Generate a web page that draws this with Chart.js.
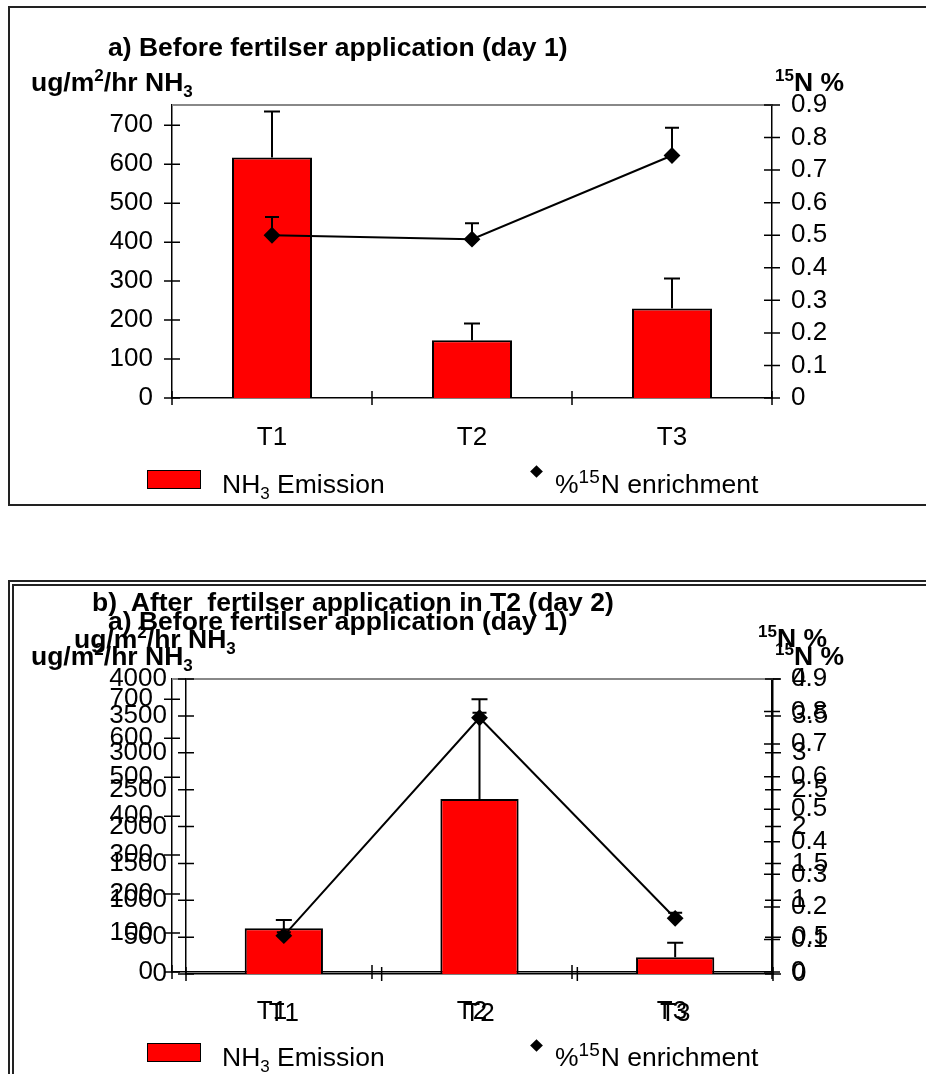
<!DOCTYPE html>
<html>
<head>
<meta charset="utf-8">
<script src="https://cdn.jsdelivr.net/npm/chart.js@4.4.0/dist/chart.umd.min.js"></script>
<style>
  html, body { margin: 0; padding: 0; background: #fff; }
  body { position: relative; width: 926px; height: 1074px; overflow: hidden;
         font-family: "Liberation Sans", Arial, sans-serif; color: #000; }
  .frame { position: absolute; box-sizing: border-box; }
  #frameA { left: 8px; top: 6px; width: 960px; height: 500px; border: 2px solid #222; }
  #frameB { left: 8px; top: 580px; width: 960px; height: 540px; border: 6px double #222; }
  canvas { position: absolute; left: 0; }
  .t { position: absolute; white-space: pre; line-height: 30px; font-size: 26.5px; }
  .b { font-weight: bold; }
  sup, sub { font-size: 17px; line-height: 0; }
  .lg sup { font-size: 19px; margin-right: 1px; }
  .box { position: absolute; width: 52px; height: 17px; background: #ff0000; border: 1.5px solid #000; }
  .dia { position: absolute; width: 9px; height: 9px; background: #000; transform: rotate(45deg); }
</style>
</head>
<body>
<div class="frame" id="frameA"></div>
<div class="frame" id="frameB"></div>

<canvas id="chartA" width="926" height="505" style="top:0"></canvas>
<canvas id="ghostA" width="926" height="505" style="top:574px"></canvas>
<canvas id="chartB" width="926" height="505" style="top:574px"></canvas>

<!-- panel a -->
<div class="t b" style="left:108px;top:32px">a) Before fertilser application (day 1)</div>
<div class="t b" style="left:31px;top:67px">ug/m<sup>2</sup>/hr NH<sub>3</sub></div>
<div class="t b" style="left:775px;top:67px"><sup>15</sup>N %</div>
<div class="box" style="left:147px;top:470px"></div>
<div class="t lg" style="left:222px;top:469px">NH<sub>3</sub> Emission</div>
<div class="dia" style="left:532px;top:467px"></div>
<div class="t lg" style="left:555px;top:469px">%<sup>15</sup>N enrichment</div>

<!-- panel b (with the leftover copy of panel a's labels) -->
<div class="t b" style="left:92px;top:587px">b)  After  fertilser application in T2 (day 2)</div>
<div class="t b" style="left:108px;top:606px">a) Before fertilser application (day 1)</div>
<div class="t b" style="left:74px;top:624px">ug/m<sup>2</sup>/hr NH<sub>3</sub></div>
<div class="t b" style="left:31px;top:641px">ug/m<sup>2</sup>/hr NH<sub>3</sub></div>
<div class="t b" style="left:758px;top:623px"><sup>15</sup>N %</div>
<div class="t b" style="left:775px;top:641px"><sup>15</sup>N %</div>
<div class="box" style="left:147px;top:1043px"></div>
<div class="t lg" style="left:222px;top:1042px">NH<sub>3</sub> Emission</div>
<div class="dia" style="left:532px;top:1041px"></div>
<div class="t lg" style="left:555px;top:1042px">%<sup>15</sup>N enrichment</div>

<script>
const categories = ["T1", "T2", "T3"];

// a) before fertiliser, day 1
const emissionA = [617, 148, 230];
const emissionErrA = [118, 43, 77];
const enrichA = [0.50, 0.488, 0.745];
const enrichErrA = [0.056, 0.049, 0.085];
const leftMaxA = 752, leftStepA = 100;
const rightMaxA = 0.9, rightStepA = 0.1;

// b) after fertiliser in T2, day 2
const emissionB = [620, 2373, 226];
const emissionErrB = [112, 1352, 198];
const enrichB = [0.52, 3.475, 0.755];
const enrichErrB = [0.045, 0.068, 0.076];
const leftMaxB = 4000, leftStepB = 500;
const rightMaxB = 4, rightStepB = 0.5;

const FONT = "'Liberation Sans', Arial, sans-serif";

// upward-only error bars, read through the dataset's own y scale
const errorBars = {
  id: "errorBars",
  afterDatasetsDraw(chart) {
    const { ctx } = chart;
    chart.data.datasets.forEach((ds, i) => {
      if (!ds.errors || !chart.isDatasetVisible(i)) return;
      const meta = chart.getDatasetMeta(i);
      const scale = chart.scales[ds.yAxisID];
      ctx.save();
      ctx.strokeStyle = "#000";
      ctx.lineWidth = 2;
      meta.data.forEach((el, j) => {
        const x = el.x;
        const y0 = scale.getPixelForValue(ds.data[j]);
        const y1 = scale.getPixelForValue(ds.data[j] + ds.errors[j]);
        ctx.beginPath();
        ctx.moveTo(x, y0);
        ctx.lineTo(x, y1);
        ctx.moveTo(x - ds.capHalf, y1);
        ctx.lineTo(x + ds.capHalf, y1);
        ctx.stroke();
      });
      ctx.restore();
    });
  },
};

// excel-like crossing tick marks + grey top edge of plot area
const axisMarks = {
  id: "axisMarks",
  afterDraw(chart) {
    const { ctx, chartArea: a, scales } = chart;
    ctx.save();
    ctx.strokeStyle = "#888";
    ctx.lineWidth = 2;
    ctx.beginPath();
    ctx.moveTo(a.left, a.top);
    ctx.lineTo(a.right, a.top);
    ctx.stroke();

    ctx.strokeStyle = "#000";
    ctx.lineWidth = 1.5;
    ctx.beginPath();
    [["y", a.left], ["y1", a.right]].forEach(([id, x]) => {
      scales[id].ticks.forEach((t) => {
        const y = scales[id].getPixelForValue(t.value);
        ctx.moveTo(x - 8, y);
        ctx.lineTo(x + 8, y);
      });
    });
    for (let k = 0; k <= categories.length; k++) {
      const x = scales.x.getPixelForValue(k - 0.5);
      ctx.moveTo(x, a.bottom - 7);
      ctx.lineTo(x, a.bottom + 7);
    }
    ctx.stroke();
    ctx.restore();
  },
};

const plainNum = (v) => String(+Number(v).toFixed(2));

function makeChart(id, o) {
  const tickFont = { family: FONT, size: 26 };
  return new Chart(document.getElementById(id), {
    data: {
      labels: categories,
      datasets: [
        {
          type: "line",
          label: "%15N enrichment",
          data: o.enrich,
          errors: o.enrichErr,
          capHalf: 7,
          yAxisID: "y1",
          order: 0,
          hidden: o.ghost,
          borderColor: "#000",
          borderWidth: 2,
          tension: 0,
          pointStyle: "rectRot",
          pointRadius: 7,
          pointBackgroundColor: "#000",
          pointBorderColor: "#000",
        },
        {
          type: "bar",
          label: "NH3 Emission",
          data: o.emission,
          errors: o.emissionErr,
          capHalf: 8,
          yAxisID: "y",
          order: 1,
          hidden: o.ghost,
          backgroundColor: "#ff0000",
          borderColor: "#000",
          borderWidth: 2,
          barPercentage: 0.4,
          categoryPercentage: 1,
        },
      ],
    },
    options: {
      responsive: false,
      animation: false,
      events: [],
      layout: { padding: { top: o.top, left: 0, right: 0, bottom: 0 } },
      plugins: { legend: { display: false }, tooltip: { enabled: false } },
      scales: {
        x: {
          offset: true,
          grid: { display: false, drawTicks: false },
          border: { display: true, color: "#000", width: 1.5 },
          ticks: { font: tickFont, color: "#000", padding: 24, maxRotation: 0 },
          afterFit: (s) => { s.height = 505 - o.bottom; },
        },
        y: {
          position: "left",
          min: 0,
          max: o.leftMax,
          grid: { display: false, drawTicks: false },
          border: { display: true, color: "#000", width: 1.5 },
          ticks: { stepSize: o.leftStep, includeBounds: false, autoSkip: false,
                   callback: plainNum, font: tickFont, color: "#000", padding: 19 },
          afterFit: (s) => { s.width = o.left; },
        },
        y1: {
          position: "right",
          min: 0,
          max: o.rightMax,
          grid: { display: false, drawTicks: false },
          border: { display: true, color: "#000", width: 1.5 },
          ticks: { stepSize: o.rightStep, includeBounds: false, autoSkip: false,
                   callback: plainNum, font: tickFont, color: "#000", padding: 19 },
          afterFit: (s) => { s.width = 926 - o.right; },
        },
      },
    },
    plugins: [errorBars, axisMarks],
  });
}

const areaA = { left: 172, right: 772, top: 105, bottom: 398 };

makeChart("chartA", {
  ...areaA, ghost: false,
  emission: emissionA, emissionErr: emissionErrA, enrich: enrichA, enrichErr: enrichErrA,
  leftMax: leftMaxA, leftStep: leftStepA, rightMax: rightMaxA, rightStep: rightStepA,
});

// the day-1 axes show through behind panel b in the original
makeChart("ghostA", {
  ...areaA, ghost: true,
  emission: emissionA, emissionErr: emissionErrA, enrich: enrichA, enrichErr: enrichErrA,
  leftMax: leftMaxA, leftStep: leftStepA, rightMax: rightMaxA, rightStep: rightStepA,
});

makeChart("chartB", {
  left: 186, right: 773, top: 105, bottom: 400, ghost: false,
  emission: emissionB, emissionErr: emissionErrB, enrich: enrichB, enrichErr: enrichErrB,
  leftMax: leftMaxB, leftStep: leftStepB, rightMax: rightMaxB, rightStep: rightStepB,
});
</script>
</body>
</html>
